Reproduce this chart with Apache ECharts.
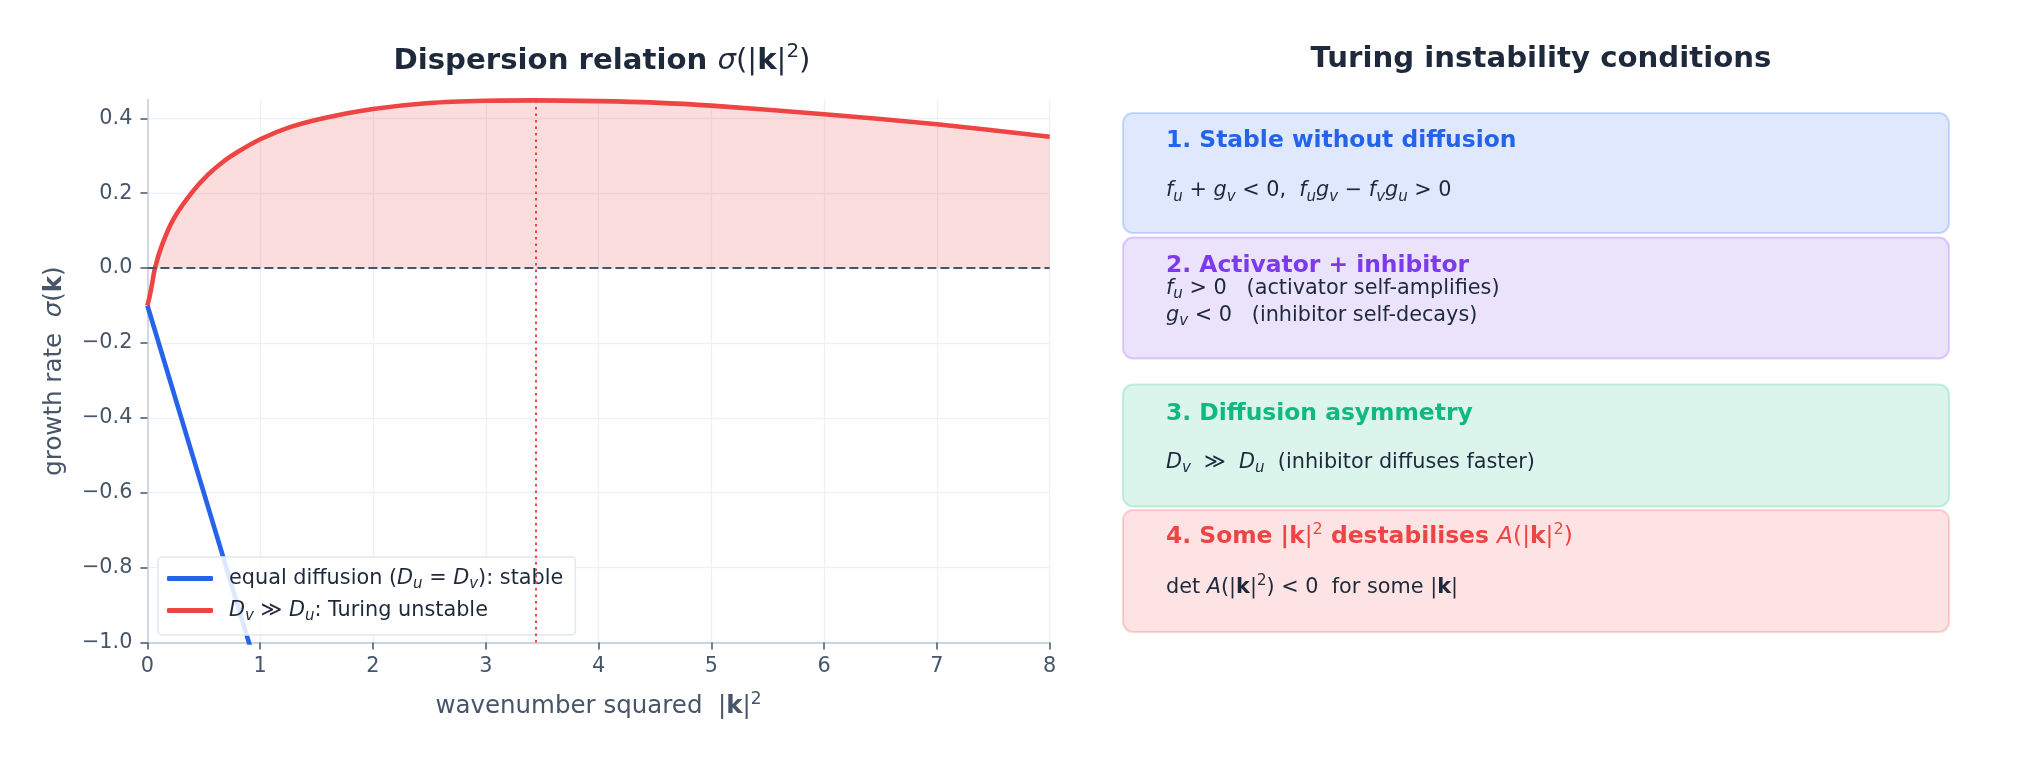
<!DOCTYPE html>
<html>
<head>
<meta charset="utf-8">
<title>Turing dispersion relation</title>
<script src="https://cdn.jsdelivr.net/npm/echarts/dist/echarts.min.js"></script>
<style>
	html, body { margin: 0; padding: 0; background: #ffffff; }
	#chart { width: 2027px; height: 763px; }
</style>
</head>
<body>
<div id="chart"></div>
<script>
/* 数据: 横轴 |k|^2, 纵轴增长率 sigma */
var equalK2 = [0, 1.0];
var equalSigma = [-0.1, -1.1];

var turingK2 = [0, 0.02, 0.04, 0.067, 0.13, 0.23, 0.39, 0.54, 0.68, 0.8, 1.0, 1.27, 1.57, 2.0, 2.5, 3.0, 3.44, 4.0, 4.5, 5.0, 6.0, 7.0, 8.0];
var turingSigma = [-0.1, -0.075, -0.045, 0.0, 0.062, 0.13, 0.2, 0.25, 0.286, 0.31, 0.344, 0.377, 0.401, 0.425, 0.441, 0.447, 0.448, 0.446, 0.442, 0.434, 0.411, 0.384, 0.351];

var peakK2 = 3.44;
var xTicks = [0, 1, 2, 3, 4, 5, 6, 7, 8];
var yTicks = [-1.0, -0.8, -0.6, -0.4, -0.2, 0.0, 0.2, 0.4];

var BLUE = '#2563eb', PURPLE = '#7c3aed', GREEN = '#10b981', RED = '#ef4444';
var INK = '#1e293b', MUTED = '#475569';
var FONT = '"DejaVu Sans", sans-serif';

function pairs(xs, ys) {
	var out = [];
	for (var i = 0; i < xs.length; i++) out.push([xs[i], ys[i]]);
	return out;
}
function tickText(v) {
	var s = Math.abs(v).toFixed(1);
	return v < -1e-9 ? '\u2212' + s : s;
}

// rich text styles for the mathtext bits (color for echarts text, fill for graphic text)
function mathRich(size, color) {
	var base = { fontSize: size, color: color, fill: color, fontFamily: FONT, lineHeight: Math.round(size * 1.3) };
	function mk(extra) {
		var o = {};
		for (var k in base) o[k] = base[k];
		for (var e in extra) o[e] = extra[e];
		return o;
	}
	var small = Math.round(size * 0.7);
	return {
		n: mk({ fontWeight: 'normal', fontStyle: 'normal' }),
		i: mk({ fontWeight: 'normal', fontStyle: 'italic' }),
		b: mk({ fontWeight: 'bold', fontStyle: 'normal' }),
		h: mk({ fontWeight: 'bold', fontStyle: 'normal' }),
		s: mk({ fontWeight: 'normal', fontStyle: 'italic', fontSize: small, verticalAlign: 'bottom', lineHeight: small }),
		p: mk({ fontWeight: 'normal', fontStyle: 'normal', fontSize: small, verticalAlign: 'top', lineHeight: small })
	};
}

var chart = echarts.init(document.getElementById('chart'));

var boxes = [
	{ y: 113, h: 120, rgb: '37,99,235' },
	{ y: 237.5, h: 121, rgb: '124,58,237' },
	{ y: 384.5, h: 122, rgb: '16,185,129' },
	{ y: 510, h: 122, rgb: '239,68,68' }
];

var HEAD = 23.4, BODY = 20.8;
var texts = [
	{ y: 140.5, rich: mathRich(HEAD, BLUE), text: '{h|1. Stable without diffusion}' },
	{ y: 191, rich: mathRich(BODY, INK),
		text: '{i|f}{s|u}{n| + }{i|g}{s|v}{n| < 0,  }{i|f}{s|u}{i|g}{s|v}{n| \u2212 }{i|f}{s|v}{i|g}{s|u}{n| > 0}' },
	{ y: 265.5, rich: mathRich(HEAD, PURPLE), text: '{h|2. Activator + inhibitor}' },
	{ y: 288.5, rich: mathRich(BODY, INK), text: '{i|f}{s|u}{n| > 0   (activator self-amplifies)}' },
	{ y: 315.5, rich: mathRich(BODY, INK), text: '{i|g}{s|v}{n| < 0   (inhibitor self-decays)}' },
	{ y: 414, rich: mathRich(HEAD, GREEN), text: '{h|3. Diffusion asymmetry}' },
	{ y: 462.5, rich: mathRich(BODY, INK),
		text: '{i|D}{s|v}{n|  \u226B  }{i|D}{s|u}{n|  (inhibitor diffuses faster)}' },
	{ y: 537, rich: mathRich(HEAD, RED),
		text: '{h|4. Some |}{b|k}{n||}{p|2}{h| destabilises }{i|A}{n|(|}{b|k}{n||}{p|2}{n|)}' },
	{ y: 587.5, rich: mathRich(BODY, INK),
		text: '{n|det }{i|A}{n|(|}{b|k}{n||}{p|2}{n|) < 0  for some |}{b|k}{n||}' }
];

var graphics = [];
boxes.forEach(function (b) {
	graphics.push({
		type: 'rect', z: 1,
		shape: { x: 1123, y: b.y, width: 826, height: b.h, r: 10 },
		style: { fill: 'rgba(' + b.rgb + ',0.15)', stroke: 'rgba(' + b.rgb + ',0.22)', lineWidth: 2 }
	});
});
texts.forEach(function (t) {
	graphics.push({
		type: 'text', z: 2,
		style: { x: 1166, y: t.y, text: t.text, rich: t.rich, verticalAlign: 'middle', align: 'left', fontFamily: FONT }
	});
});

chart.setOption({
	backgroundColor: '#ffffff',
	animation: false,
	title: [{
		text: '{h|Dispersion relation }{i|\u03C3}{n|(|}{b|k}{n||}{p|2}{n|)}',
		left: 597, top: 37, textAlign: 'center',
		textStyle: { rich: mathRich(29.2, INK) }
	}, {
		text: 'Turing instability conditions',
		left: 1536, top: 40, textAlign: 'center',
		textStyle: { fontSize: 29.2, fontWeight: 'bold', color: INK, fontFamily: FONT }
	}],
	grid: { left: 147.4, right: 977.3, top: 99.6, bottom: 120.5, containLabel: false },
	legend: {
		orient: 'vertical',
		left: 158, top: 557,
		padding: [11, 12, 11, 9],
		itemGap: 8,
		itemWidth: 46, itemHeight: 5,
		backgroundColor: 'rgba(255,255,255,0.85)',
		borderColor: '#e2e8f0', borderWidth: 1.5, borderRadius: 4,
		data: [{ name: 'equal', icon: 'roundRect' }, { name: 'turing', icon: 'roundRect' }],
		formatter: function (name) {
			if (name === 'equal') return '{n|equal diffusion (}{i|D}{s|u}{n| = }{i|D}{s|v}{n|): stable}';
			return '{i|D}{s|v}{n| \u226B }{i|D}{s|u}{n|: Turing unstable}';
		},
		textStyle: { rich: mathRich(20.8, INK), padding: [0, 0, 0, 11] }
	},
	xAxis: {
		type: 'value', min: 0, max: 8, interval: 1,
		name: '{n|wavenumber squared  |}{b|k}{n||}{p|2}',
		nameLocation: 'middle', nameGap: 48.5,
		nameTextStyle: { rich: mathRich(24.5, MUTED) },
		axisLine: { onZero: false, lineStyle: { color: '#cbd5e1', width: 1.8 } },
		axisTick: { length: 7, lineStyle: { color: MUTED, width: 1.5 }, customValues: xTicks },
		axisLabel: { margin: 14, color: MUTED, fontSize: 20.8, fontFamily: FONT, customValues: xTicks },
		splitLine: { show: true, lineStyle: { color: '#edf1f6', width: 1.3 } }
	},
	yAxis: {
		type: 'value', min: -1.0, max: 0.45,
		name: '{n|growth rate  }{i|\u03C3}{n|(}{b|k}{n|)}',
		nameLocation: 'middle', nameGap: 77,
		nameTextStyle: { rich: mathRich(24.5, MUTED) },
		axisLine: { show: true, lineStyle: { color: '#cbd5e1', width: 1.8 } },
		axisTick: { show: true, length: 7, lineStyle: { color: MUTED, width: 1.5 }, customValues: yTicks },
		axisLabel: {
			margin: 15, color: MUTED, fontSize: 20.8, fontFamily: FONT, customValues: yTicks,
			formatter: function (v) { return tickText(v); }
		},
		splitLine: { show: true, lineStyle: { color: '#edf1f6', width: 1.3 } }
	},
	series: [{
		name: 'equal', type: 'line', symbol: 'none', clip: true,
		data: pairs(equalK2, equalSigma),
		lineStyle: { color: BLUE, width: 4.6 },
		itemStyle: { color: BLUE },
		z: 3
	}, {
		// 正值部分填充
		name: 'fill', type: 'line', symbol: 'none', silent: true,
		smooth: 0.3,
		data: pairs(turingK2, turingSigma).filter(function (p) { return p[1] >= 0; }),
		lineStyle: { width: 0 },
		areaStyle: { color: 'rgba(239,68,68,0.18)', opacity: 1, origin: 0 },
		z: 2
	}, {
		name: 'turing', type: 'line', symbol: 'none',
		smooth: 0.3,
		data: pairs(turingK2, turingSigma),
		lineStyle: { color: RED, width: 4.6 },
		itemStyle: { color: RED },
		markLine: {
			silent: true, symbol: 'none', label: { show: false }, animation: false,
			data: [
				{ yAxis: 0, lineStyle: { type: [9, 4], color: MUTED, width: 2 } },
				{ xAxis: peakK2, lineStyle: { type: [2.5, 4], color: RED, width: 2 } }
			]
		},
		z: 4
	}],
	graphic: graphics
});
</script>
</body>
</html>
